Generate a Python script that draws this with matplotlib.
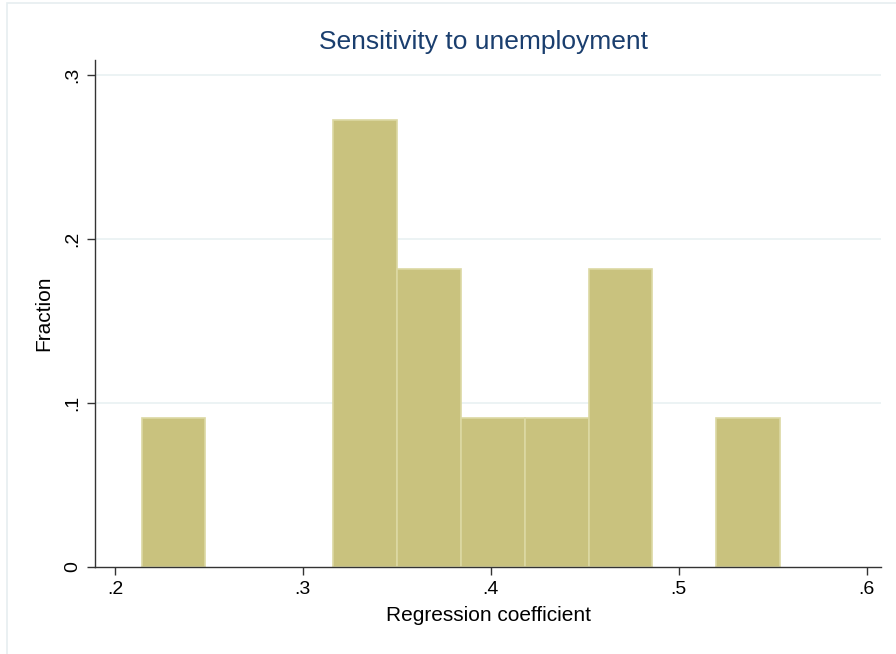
# histogram: sensitivity to unemployment

from matplotlib import pyplot as plt
from matplotlib.patches import Rectangle
import numpy as np

# liczebnosci w przedzialach (11 obserwacji)
bin_start = 0.2142
bin_width = 0.03397
counts = [1, 0, 0, 3, 2, 1, 1, 2, 0, 1]
n_obs = 11

x_ticks = [0.2, 0.3, 0.4, 0.5, 0.6]
x_labels = ['.2', '.3', '.4', '.5', '.6']
y_ticks = [0, 0.1, 0.2, 0.3]
y_labels = ['0', '.1', '.2', '.3']

plt.rcParams['font.family'] = ['Liberation Sans', 'DejaVu Sans']

fig = plt.figure(figsize=(8.96, 6.54), dpi=100)
ax = fig.add_axes([95/896, 1 - 567/654, (881 - 95)/896, (567 - 60)/654])

# slupki (puste przedzialy pomijamy, zeby nie rysowac obrysu)
edges = bin_start + bin_width * np.arange(len(counts))
fractions = np.array(counts) / n_obs
mask = fractions > 0
ax.bar(edges[mask], fractions[mask], width=bin_width, align='edge',
       color='#c9c27e', edgecolor='#dcd8a3', linewidth=1.2, zorder=2)

# zakresy osi
ax.set_xlim(0.1894, 0.6076)
ax.set_ylim(0, 0.3091)

ax.set_xticks(x_ticks)
ax.set_xticklabels(x_labels, fontsize=14)
ax.set_yticks(y_ticks)
ax.set_yticklabels(y_labels, fontsize=14, rotation=90, va='center')
ax.tick_params(length=6, width=1, color='#333333', pad=4)

# siatka pozioma
for yv in y_ticks[1:]:
    ax.axhline(yv, color='#eaf2f3', linewidth=1.3, zorder=1)

for s in ['top', 'right']:
    ax.spines[s].set_visible(False)
for s in ['left', 'bottom']:
    ax.spines[s].set_color('#333333')
    ax.spines[s].set_linewidth(1)

ax.set_xlabel('Regression coefficient', fontsize=15, labelpad=6)
ax.set_ylabel('Fraction', fontsize=15, labelpad=8)
ax.set_title('Sensitivity to unemployment', fontsize=19, color='#1a3e6e', pad=8, x=0.494)

# ramka wokol wykresu
fig.patches.append(Rectangle((7/896, -0.1), 1.2, 1.1 - 3/654, transform=fig.transFigure,
                             fill=False, edgecolor='#e6eef0', linewidth=1.2))

fig.savefig('out.png', dpi=100)
